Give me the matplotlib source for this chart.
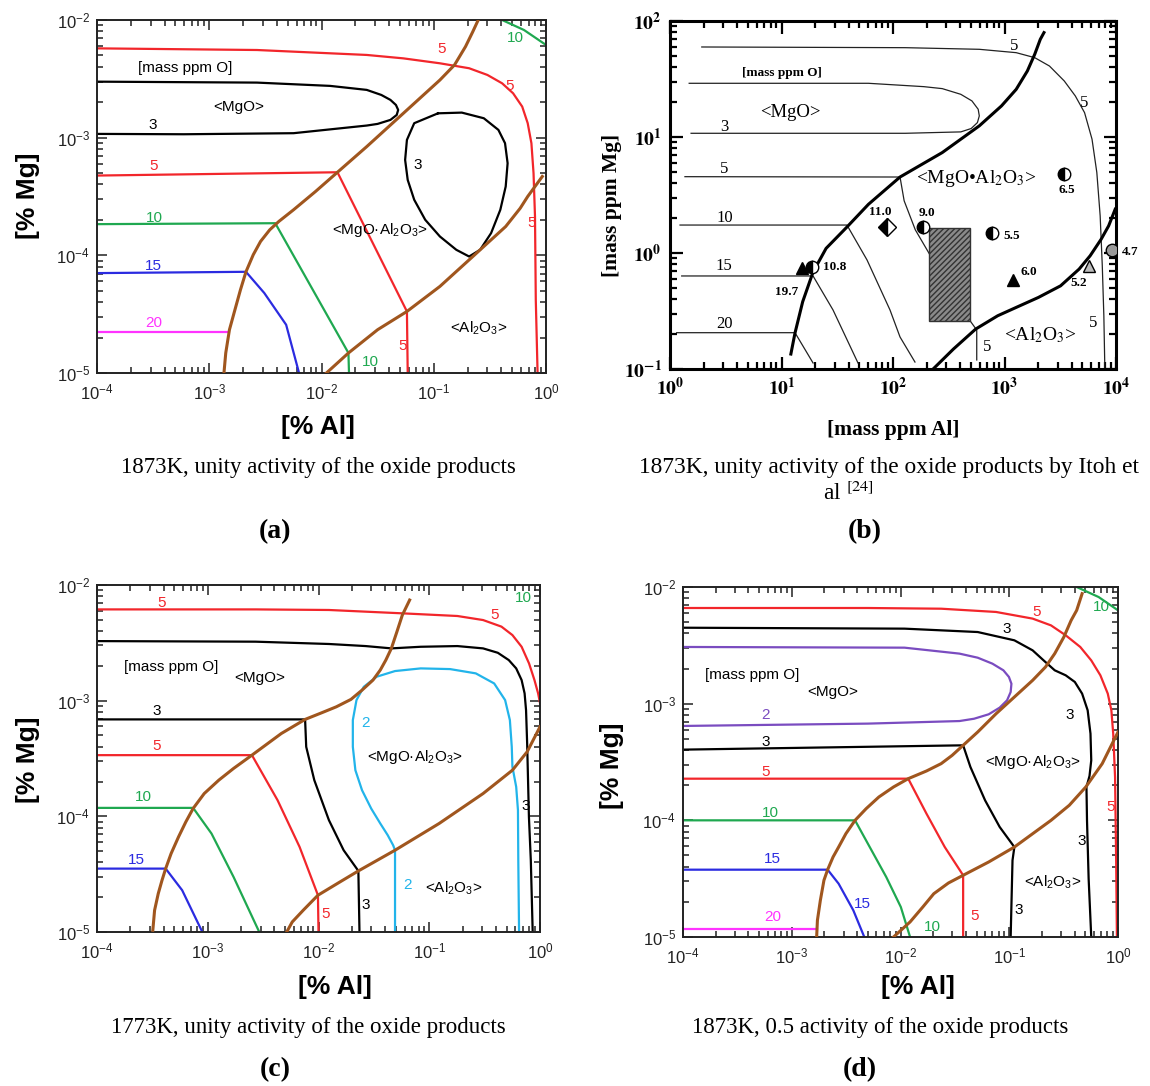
import numpy as np
import matplotlib.pyplot as plt
from matplotlib.patches import Rectangle
from matplotlib.ticker import NullFormatter

plt.rcParams['font.family'] = ['Liberation Sans', 'DejaVu Sans']
plt.rcParams['mathtext.fontset'] = 'custom'
plt.rcParams['mathtext.rm'] = 'Liberation Sans'
plt.rcParams['mathtext.it'] = 'Liberation Sans:italic'
plt.rcParams['mathtext.bf'] = 'Liberation Sans:bold'

W, H = 1150, 1086

RED = '#f2262b'
GREEN = '#1fa850'
BLUE = '#2b2be0'
MAGENTA = '#ff33ff'
CYAN = '#22b4ea'
PURPLE = '#7a4cc0'
BROWN = '#a0561e'

# ---- data: every point is (log10 x, log10 y) ----
# (a) 1873K, unity activity, [% Al] vs [% Mg]
a_o5_top = [(-4, -2.241), (-2.575, -2.255), (-1.597, -2.297), (-1.271, -2.326), (-0.945, -2.368),
            (-0.685, -2.410), (-0.522, -2.467), (-0.391, -2.538), (-0.293, -2.623), (-0.212, -2.736),
            (-0.163, -2.877), (-0.130, -3.047), (-0.111, -3.302), (-0.098, -3.670), (-0.091, -4.378),
            (-0.075, -5)]
a_o3_mgo = [(-4, -2.524), (-2.575, -2.532), (-1.923, -2.56), (-1.597, -2.594), (-1.467, -2.637),
            (-1.386, -2.679), (-1.337, -2.722), (-1.317, -2.764), (-1.33, -2.807), (-1.386, -2.849),
            (-1.5, -2.883), (-1.597, -2.897), (-2.249, -2.962), (-3.227, -2.971), (-4, -2.968)]
a_o3_spinel = [(-0.962, -2.793), (-1.174, -2.877), (-1.239, -3.019), (-1.255, -3.189), (-1.232, -3.359),
               (-1.174, -3.528), (-1.076, -3.698), (-0.945, -3.840), (-0.799, -3.953), (-0.685, -4.010),
               (-0.587, -3.953), (-0.489, -3.811), (-0.407, -3.613), (-0.359, -3.415), (-0.342, -3.217),
               (-0.365, -3.047), (-0.424, -2.934), (-0.554, -2.835), (-0.75, -2.787), (-0.962, -2.793)]
a_o5_low = [(-4, -3.322), (-1.858, -3.294), (-1.239, -4.477), (-1.232, -5)]
a_o10 = [(-4, -3.735), (-2.412, -3.727), (-1.76, -4.83), (-1.755, -5)]
a_o10_corner = [(-0.391, -2), (-0.196, -2.085), (0, -2.212)]
a_o15 = [(-4, -4.151), (-2.673, -4.14), (-2.51, -4.32), (-2.315, -4.59), (-2.2, -5)]
a_o20 = [(-4, -4.652), (-2.83, -4.652)]
a_b1 = [(-2.869, -5), (-2.853, -4.830), (-2.820, -4.632), (-2.771, -4.462), (-2.722, -4.293),
        (-2.673, -4.14), (-2.608, -3.995), (-2.543, -3.882), (-2.461, -3.783), (-2.380, -3.712),
        (-2.249, -3.613), (-2.054, -3.458), (-1.858, -3.294), (-1.597, -3.076), (-1.271, -2.793),
        (-0.945, -2.51), (-0.815, -2.382), (-0.717, -2.226), (-0.652, -2.099), (-0.604, -2.0)]
a_b2 = [(-1.956, -5), (-1.76, -4.83), (-1.5, -4.632), (-1.239, -4.477), (-0.945, -4.264),
        (-0.652, -4.01), (-0.359, -3.755), (-0.23, -3.6), (-0.163, -3.5), (-0.033, -3.33)]
a_labels = [('[mass ppm O]', -3.21, -2.41, 'k'), ('<MgO>', -2.74, -2.74, 'k'), ('3', -3.5, -2.89, 'k'),
            ('3', -1.141, -3.231, 'k'), ('<MgO·Al$_2$O$_3$>', -1.483, -3.783, 'k'),
            ('<Al$_2$O$_3$>', -0.603, -4.618, 'k'), ('5', -3.5, -3.24, RED), ('5', -0.929, -2.249, RED),
            ('5', -0.326, -2.56, RED), ('5', -0.13, -3.727, RED), ('5', -1.28, -4.774, RED),
            ('10', -3.49, -3.68, GREEN), ('10', -1.565, -4.91, GREEN), ('10', -0.277, -2.156, GREEN),
            ('15', -3.495, -4.09, BLUE), ('20', -3.49, -4.576, MAGENTA)]

# (b) Itoh et al., mass ppm Al vs mass ppm Mg
b_o5_top = [(0.285, 1.776), (2.111, 1.770), (2.774, 1.756), (3.105, 1.727), (3.271, 1.684),
            (3.403, 1.612), (3.536, 1.483), (3.635, 1.354), (3.718, 1.210), (3.785, 0.981),
            (3.828, 0.694), (3.858, 0.320), (3.877, -0.110), (3.891, -0.541), (3.9, -1.0)]
b_o3 = [(0.172, 1.463), (1.78, 1.463), (2.277, 1.434), (2.442, 1.417), (2.608, 1.368), (2.708, 1.311),
        (2.764, 1.239), (2.774, 1.182), (2.757, 1.124), (2.701, 1.073), (2.608, 1.044), (2.111, 1.032),
        (0.189, 1.032)]
b_o5_low = [(0.134, 0.658), (2.063, 0.655), (2.10, 0.45), (2.2, 0.2), (2.332, -0.017), (2.691, -0.584),
            (2.751, -0.664), (2.751, -0.922)]
b_o10 = [(0.09, 0.241), (1.587, 0.241), (1.767, -0.06), (1.973, -0.491), (2.063, -0.724), (2.197, -0.94)]
b_o15 = [(0.105, -0.198), (1.283, -0.198), (1.462, -0.491), (1.686, -0.948)]
b_o20 = [(0.06, -0.687), (1.121, -0.687), (1.283, -0.948)]
b_b1 = [(1.084, -0.871), (1.121, -0.69), (1.19, -0.42), (1.283, -0.164), (1.40, 0.04), (1.587, 0.224),
        (1.78, 0.42), (2.063, 0.655), (2.442, 0.866), (2.774, 1.096), (2.973, 1.268), (3.105, 1.411),
        (3.205, 1.569), (3.271, 1.713), (3.321, 1.842), (3.354, 1.9)]
b_b2 = [(2.36, -1.0), (2.542, -0.828), (2.741, -0.656), (2.939, -0.541), (3.105, -0.469),
        (3.304, -0.383), (3.503, -0.283), (3.669, -0.139), (3.768, -0.024), (3.867, 0.119),
        (3.934, 0.234), (3.993, 0.378)]
b_rect_al = [2.326, 2.691]
b_rect_mg = [-0.584, 0.218]
b_pt_al = [1.181, 1.271, 1.943, 2.272, 2.885, 3.534, 3.073, 3.758, 3.967]
b_pt_mg = [-0.13, -0.121, 0.227, 0.227, 0.175, 0.681, -0.233, -0.109, 0.026]
b_pt_kind = ['tri', 'half', 'diamond', 'half', 'half', 'half', 'tri', 'tri_open', 'circ_grey']
b_pt_text = ['19.7', '10.8', '11.0', '9.0', '5.5', '6.5', '6.0', '5.2', '4.7']
b_pt_text_al = [1.047, 1.48, 1.883, 2.302, 3.06, 3.558, 3.214, 3.662, 4.126]
b_pt_text_mg = [-0.334, -0.121, 0.356, 0.342, 0.15, 0.543, -0.161, -0.261, 0.011]
b_labels = [('<MgO>', 1.084, 1.21, 13.5), ('3', 0.487, 1.09, 12), ('5', 3.089, 1.785, 12),
            ('5', 3.718, 1.297, 12), ('5', 0.487, 0.722, 12), ('10', 0.487, 0.306, 12),
            ('15', 0.487, -0.11, 12), ('20', 0.487, -0.613, 12), ('<MgO•Al$_2$O$_3$>', 2.751, 0.644, 14),
            ('<Al$_2$O$_3$>', 3.318, -0.707, 14), ('5', 2.84, -0.808, 12), ('5', 3.796, -0.606, 12)]

# (c) 1773K, unity activity
c_o5_top = [(-4, -2.211), (-2.568, -2.211), (-1.906, -2.216), (-1.243, -2.245), (-0.746, -2.268),
            (-0.514, -2.303), (-0.348, -2.36), (-0.249, -2.433), (-0.166, -2.534), (-0.099, -2.678),
            (-0.050, -2.822), (-0.017, -2.937), (0, -3.02)]
c_o3_top = [(-4, -2.485), (-2.568, -2.49), (-1.906, -2.51), (-1.574, -2.528), (-1.342, -2.548),
            (-1.077, -2.534), (-0.746, -2.528), (-0.514, -2.548), (-0.381, -2.586), (-0.282, -2.649),
            (-0.215, -2.721), (-0.166, -2.822), (-0.139, -2.937), (-0.126, -3.082), (-0.116, -3.37),
            (-0.1, -4.005), (-0.083, -4.38), (-0.066, -5)]
c_o3_low = [(-4, -3.162), (-2.121, -3.162), (-2.111, -3.399), (-2.038, -3.687), (-1.906, -4.033),
            (-1.773, -4.293), (-1.64, -4.472), (-1.63, -5)]
c_o5_low = [(-4, -3.471), (-2.601, -3.471), (-2.37, -3.86), (-2.171, -4.264), (-2.005, -4.682), (-2.0, -5)]
c_o10 = [(-4, -3.927), (-3.132, -3.927), (-2.966, -4.149), (-2.767, -4.524), (-2.535, -5)]
c_o15 = [(-4, -4.452), (-3.38, -4.452), (-3.231, -4.639), (-3.049, -5)]
c_o2 = [(-1.309, -5), (-1.309, -4.293), (-1.326, -4.250), (-1.375, -4.163), (-1.442, -4.062),
        (-1.524, -3.933), (-1.607, -3.774), (-1.667, -3.601), (-1.690, -3.399), (-1.690, -3.168),
        (-1.657, -2.995), (-1.591, -2.880), (-1.475, -2.793), (-1.309, -2.744), (-1.077, -2.721),
        (-0.812, -2.727), (-0.580, -2.764), (-0.414, -2.851), (-0.315, -2.995), (-0.272, -3.168),
        (-0.255, -3.399), (-0.249, -3.572), (-0.215, -3.745), (-0.199, -3.947), (-0.196, -4.380),
        (-0.189, -5)]
c_b1 = [(-3.496, -4.985), (-3.480, -4.812), (-3.447, -4.668), (-3.413, -4.553), (-3.38, -4.452),
        (-3.331, -4.322), (-3.264, -4.178), (-3.198, -4.048), (-3.132, -3.932), (-3.032, -3.803),
        (-2.9, -3.687), (-2.767, -3.586), (-2.601, -3.471), (-2.336, -3.284), (-2.121, -3.162),
        (-1.972, -3.105), (-1.839, -3.053), (-1.707, -2.989), (-1.607, -2.909), (-1.508, -2.822),
        (-1.442, -2.735), (-1.392, -2.649), (-1.342, -2.548), (-1.292, -2.404), (-1.243, -2.260),
        (-1.177, -2.13)]
c_b2 = [(-2.287, -5), (-2.237, -4.913), (-2.138, -4.812), (-2.005, -4.682), (-1.806, -4.567),
        (-1.64, -4.472), (-1.309, -4.293), (-0.911, -4.062), (-0.514, -3.803), (-0.249, -3.601),
        (-0.116, -3.442), (0, -3.226)]
c_labels = [('5', -3.413, -2.159, RED), ('5', -0.408, -2.26, RED), ('10', -0.149, -2.115, GREEN),
            ('[mass ppm O]', -3.331, -2.712, 'k'), ('<MgO>', -2.535, -2.808, 'k'), ('3', -3.463, -3.087, 'k'),
            ('5', -3.463, -3.393, RED), ('10', -3.579, -3.837, GREEN), ('15', -3.645, -4.374, BLUE),
            ('2', -1.574, -3.197, CYAN), ('2', -1.193, -4.596, CYAN), ('<MgO·Al$_2$O$_3$>', -1.127, -3.491, 'k'),
            ('<Al$_2$O$_3$>', -0.779, -4.625, 'k'), ('3', -1.574, -4.769, 'k'), ('5', -1.939, -4.841, RED),
            ('3', -0.133, -3.912, 'k')]

# (d) 1873K, 0.5 activity
d_o10_corner = [(-0.38, -2), (-0.178, -2.086), (0, -2.2)]
d_o5_top = [(-4, -2.18), (-2.3, -2.18), (-1.626, -2.186), (-1.121, -2.214), (-0.785, -2.271),
            (-0.616, -2.329), (-0.481, -2.414), (-0.347, -2.514), (-0.246, -2.629), (-0.162, -2.757),
            (-0.094, -2.914), (-0.061, -3.057), (-0.044, -3.257), (-0.027, -3.629), (-0.017, -4.343),
            (-0.01, -5)]
d_o3_top = [(-4, -2.349), (-1.963, -2.357), (-1.29, -2.386), (-0.953, -2.457), (-0.785, -2.543),
            (-0.684, -2.629), (-0.582, -2.714), (-0.481, -2.757), (-0.397, -2.814), (-0.330, -2.914),
            (-0.279, -3.057), (-0.253, -3.257), (-0.246, -3.486), (-0.262, -3.62), (-0.29, -3.714),
            (-0.285, -4.0), (-0.27, -4.5), (-0.246, -5)]
d_o2 = [(-4, -2.514), (-1.963, -2.52), (-1.458, -2.571), (-1.290, -2.606), (-1.155, -2.657),
        (-1.054, -2.714), (-1.003, -2.771), (-0.980, -2.829), (-0.987, -2.9), (-1.020, -2.971),
        (-1.088, -3.034), (-1.189, -3.091), (-1.323, -3.129), (-1.458, -3.149), (-2.3, -3.171),
        (-4, -3.191)]
d_o3_low = [(-4, -3.394), (-1.424, -3.357), (-1.357, -3.543), (-1.222, -3.829), (-1.088, -4.057),
            (-0.953, -4.229), (-0.97, -4.343), (-0.987, -5)]
d_o5_low = [(-4, -3.643), (-1.929, -3.643), (-1.761, -3.943), (-1.593, -4.229), (-1.424, -4.471), (-1.424, -5)]
d_o10 = [(-4, -4.0), (-2.418, -4.0), (-2.3, -4.2), (-2.131, -4.486), (-1.997, -4.743), (-1.912, -5)]
d_o15 = [(-4, -4.423), (-2.67, -4.423), (-2.569, -4.543), (-2.434, -4.771), (-2.333, -5)]
d_o20 = [(-4, -4.934), (-2.771, -4.934)]
d_b1 = [(-2.771, -5), (-2.764, -4.857), (-2.737, -4.686), (-2.704, -4.514), (-2.67, -4.423),
        (-2.620, -4.314), (-2.569, -4.229), (-2.502, -4.114), (-2.418, -4.0), (-2.316, -3.9),
        (-2.199, -3.8), (-2.064, -3.714), (-1.929, -3.643), (-1.761, -3.577), (-1.626, -3.514),
        (-1.525, -3.443), (-1.424, -3.357), (-1.290, -3.243), (-1.121, -3.086), (-0.953, -2.943),
        (-0.785, -2.8), (-0.667, -2.686), (-0.582, -2.571), (-0.498, -2.429), (-0.431, -2.286),
        (-0.38, -2.2), (-0.33, -2.057)]
d_b2 = [(-2.064, -5), (-1.997, -4.943), (-1.912, -4.871), (-1.795, -4.743), (-1.694, -4.629),
        (-1.559, -4.537), (-1.424, -4.471), (-1.189, -4.357), (-0.953, -4.229), (-0.616, -4.0),
        (-0.448, -3.871), (-0.296, -3.714), (-0.145, -3.514), (0, -3.243)]
d_labels = [('10', -0.152, -2.171, GREEN), ('5', -0.751, -2.214, RED), ('3', -1.02, -2.357, 'k'),
            ('[mass ppm O]', -3.36, -2.757, 'k'), ('<MgO>', -2.62, -2.9, 'k'), ('2', -3.242, -3.1, PURPLE),
            ('3', -3.242, -3.329, 'k'), ('3', -0.441, -3.094, 'k'), ('5', -3.242, -3.586, RED),
            ('<MgO·Al$_2$O$_3$>', -0.785, -3.5, 'k'), ('10', -3.192, -3.934, GREEN), ('5', -0.071, -3.886, RED),
            ('3', -0.33, -4.18, 'k'), ('15', -3.175, -4.329, BLUE), ('<Al$_2$O$_3$>', -0.6, -4.529, 'k'),
            ('15', -2.35, -4.72, BLUE), ('20', -3.175, -4.829, MAGENTA), ('5', -1.316, -4.823, RED),
            ('3', -0.912, -4.771, 'k'), ('10', -1.71, -4.914, GREEN)]

captions = ['1873K, unity activity of the oxide products',
            '1873K, unity activity of the oxide products by Itoh et',
            '1773K, unity activity of the oxide products',
            '1873K, 0.5 activity of the oxide products']


def lg(pts):
    a = np.array(pts, dtype=float)
    return 10 ** a[:, 0], 10 ** a[:, 1]


def box(l, t, r, b):
    return [l / W, 1 - b / H, (r - l) / W, (b - t) / H]


def ftext(x, y, s, **kw):
    fig.text(x / W, 1 - y / H, s, ha='center', va='center', **kw)


fig = plt.figure(figsize=(W / 100, H / 100), dpi=100)


def sans_panel(rect, curves, boundaries, labels):
    ax = fig.add_axes(rect)
    ax.set_xscale('log')
    ax.set_yscale('log')
    for pts, col in curves:
        x, y = lg(pts)
        ax.plot(x, y, color=col, lw=1.6, zorder=2)
    for pts in boundaries:
        x, y = lg(pts)
        ax.plot(x, y, color=BROWN, lw=2.2, zorder=3)
    for s, lx, ly, col in labels:
        ax.text(10 ** lx, 10 ** ly, s, color=col, fontsize=11, ha='center', va='center', zorder=4)
    ax.set_xlim(1e-4, 1)
    ax.set_ylim(1e-5, 1e-2)
    ax.set_xticks([1e-4, 1e-3, 1e-2, 1e-1, 1],
                  [r'10$^{-4}$', r'10$^{-3}$', r'10$^{-2}$', r'10$^{-1}$', r'10$^{0}$'], fontsize=12)
    ax.set_yticks([1e-5, 1e-4, 1e-3, 1e-2],
                  [r'10$^{-5}$', r'10$^{-4}$', r'10$^{-3}$', r'10$^{-2}$'], fontsize=12)
    ax.xaxis.set_minor_formatter(NullFormatter())
    ax.yaxis.set_minor_formatter(NullFormatter())
    ax.tick_params(which='both', direction='in', top=True, right=True, width=1.1, colors='#222222')
    ax.tick_params(which='major', length=7)
    ax.tick_params(axis='x', which='major', pad=7)
    ax.tick_params(axis='y', which='major', pad=5)
    ax.tick_params(which='minor', length=4)
    for sp in ax.spines.values():
        sp.set_linewidth(1.4)
        sp.set_color('#222222')
    return ax


# (a)
sans_panel(box(97, 20, 546, 373),
           [(a_o5_top, RED), (a_o3_mgo, 'k'), (a_o3_spinel, 'k'), (a_o5_low, RED), (a_o10, GREEN),
            (a_o10_corner, GREEN), (a_o15, BLUE), (a_o20, MAGENTA)],
           [a_b1, a_b2], a_labels)

# (c)
sans_panel(box(97, 585, 540, 932),
           [(c_o5_top, RED), (c_o3_top, 'k'), (c_o3_low, 'k'), (c_o5_low, RED), (c_o10, GREEN),
            (c_o15, BLUE), (c_o2, CYAN)],
           [c_b1, c_b2], c_labels)

# (d)
sans_panel(box(683, 587, 1118, 937),
           [(d_o10_corner, GREEN), (d_o5_top, RED), (d_o3_top, 'k'), (d_o2, PURPLE), (d_o3_low, 'k'),
            (d_o5_low, RED), (d_o10, GREEN), (d_o15, BLUE), (d_o20, MAGENTA)],
           [d_b1, d_b2], d_labels)

# (b)
serif = 'Liberation Serif'
axb = fig.add_axes(box(670, 21, 1116, 369))
axb.set_xscale('log')
axb.set_yscale('log')
for pts in [b_o5_top, b_o3, b_o5_low, b_o10, b_o15, b_o20]:
    x, y = lg(pts)
    axb.plot(x, y, color='#222222', lw=0.9, zorder=2)
for pts in [b_b1, b_b2]:
    x, y = lg(pts)
    axb.plot(x, y, color='black', lw=2.2, zorder=3)
axb.add_patch(Rectangle((10 ** b_rect_al[0], 10 ** b_rect_mg[0]),
                        10 ** b_rect_al[1] - 10 ** b_rect_al[0], 10 ** b_rect_mg[1] - 10 ** b_rect_mg[0],
                        facecolor='#8a8a8a', edgecolor='#333333', hatch='//////', lw=1.0, zorder=4))
for px, py, kind in zip(b_pt_al, b_pt_mg, b_pt_kind):
    kw = dict(ms=9, mec='black', mew=1.0, zorder=5, ls='none')
    if kind == 'tri':
        axb.plot(10 ** px, 10 ** py, marker='^', mfc='black', **kw)
    elif kind == 'tri_open':
        axb.plot(10 ** px, 10 ** py, marker='^', mfc='#bbbbbb', **kw)
    elif kind == 'half':
        axb.plot(10 ** px, 10 ** py, marker='o', fillstyle='left', mfc='black', mfcalt='white', **kw)
    elif kind == 'diamond':
        axb.plot(10 ** px, 10 ** py, marker='D', fillstyle='left', mfc='black', mfcalt='white', **kw)
    else:
        axb.plot(10 ** px, 10 ** py, marker='o', mfc='#999999', **kw)
for s, tx, ty in zip(b_pt_text, b_pt_text_al, b_pt_text_mg):
    axb.text(10 ** tx, 10 ** ty, s, fontsize=9.5, fontweight='bold', family=serif,
             ha='center', va='center', zorder=6)
axb.text(10 ** 1.0, 10 ** 1.549, '[mass ppm O]', fontsize=9.5, fontweight='bold', family=serif,
         ha='center', va='center')
for s, lx, ly, fs in b_labels:
    axb.text(10 ** lx, 10 ** ly, s, fontsize=fs, family=serif, math_fontfamily='stix',
             ha='center', va='center', zorder=6)
axb.set_xlim(1, 1e4)
axb.set_ylim(0.1, 100)
axb.set_xticks([1, 10, 100, 1000, 1e4],
               [r'$\mathbf{10^{%d}}$' % k for k in range(5)], fontsize=14, math_fontfamily='stix')
axb.set_yticks([0.1, 1, 10, 100],
               [r'$\mathbf{10^{%d}}$' % k for k in range(-1, 3)], fontsize=14, math_fontfamily='stix')
axb.xaxis.set_minor_formatter(NullFormatter())
axb.yaxis.set_minor_formatter(NullFormatter())
axb.tick_params(which='both', direction='in', top=True, right=True, width=1.6)
axb.tick_params(which='major', length=9, pad=6)
axb.tick_params(which='minor', length=5)
for sp in axb.spines.values():
    sp.set_linewidth(2.2)

# axis titles
ftext(318, 427, '[% Al]', fontsize=19, fontweight='bold')
ftext(28, 196, '[% Mg]', fontsize=19, fontweight='bold', rotation=90)
ftext(893, 430, '[mass ppm Al]', fontsize=15.5, fontweight='bold', family=serif)
ftext(612, 205, '[mass ppm Mg]', fontsize=15.5, fontweight='bold', family=serif, rotation=90)
ftext(335, 987, '[% Al]', fontsize=19, fontweight='bold')
ftext(28, 760, '[% Mg]', fontsize=19, fontweight='bold', rotation=90)
ftext(918, 987, '[% Al]', fontsize=19, fontweight='bold')
ftext(612, 766, '[% Mg]', fontsize=19, fontweight='bold', rotation=90)

# captions
ftext(318, 467, captions[0], fontsize=16.5, family=serif)
ftext(889, 467, captions[1], fontsize=16.8, family=serif)
ftext(848, 493, r'al $^{[24]}$', fontsize=16.8, family=serif, math_fontfamily='stix')
ftext(308, 1027, captions[2], fontsize=16.5, family=serif)
ftext(880, 1027, captions[3], fontsize=16.5, family=serif)
for s, x, y in [('(a)', 275, 532), ('(b)', 865, 532), ('(c)', 275, 1070), ('(d)', 860, 1070)]:
    ftext(x, y, s, fontsize=20, fontweight='bold', family=serif)

fig.savefig('out.png', dpi=100)
